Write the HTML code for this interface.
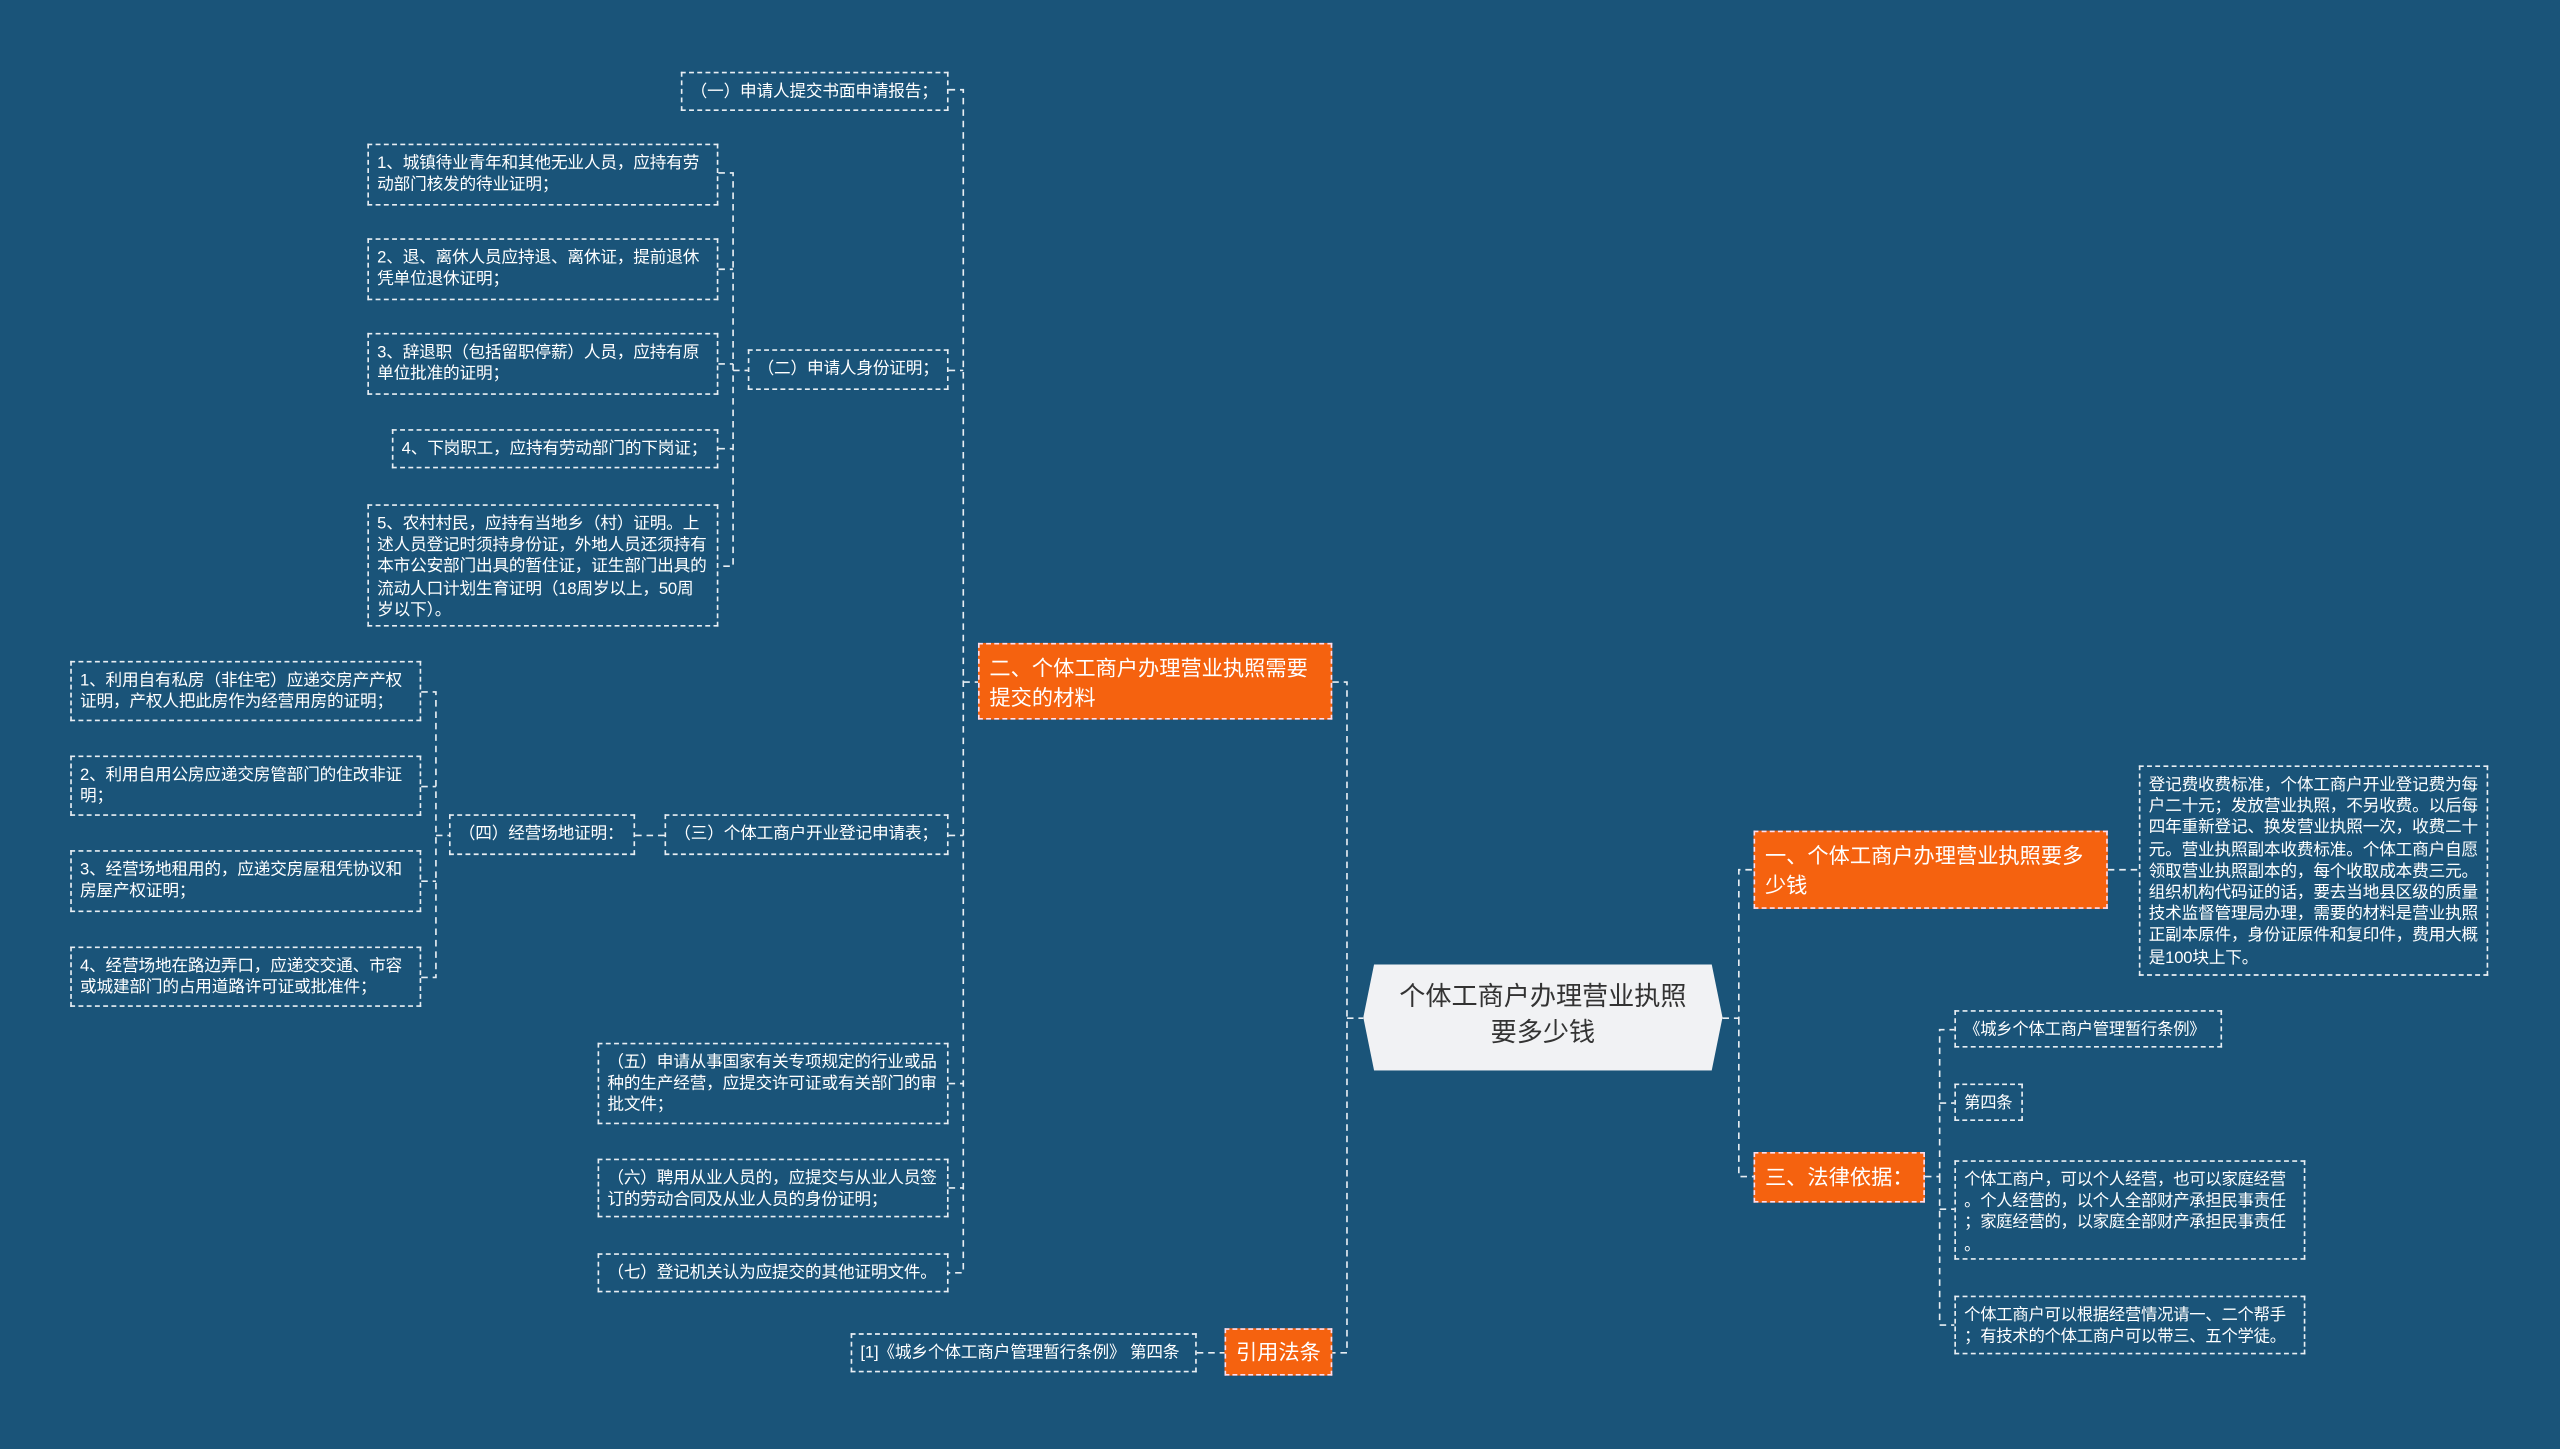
<!DOCTYPE html>
<html><head><meta charset="utf-8"><style>
html,body{margin:0;padding:0;background:#1a5479;}
#w{position:relative;width:1568px;height:888px;transform:scale(1.6327,1.6318);transform-origin:0 0;overflow:hidden;background:#1a5479;font-family:"Liberation Sans","Noto Sans CJK SC",sans-serif;}
.b{position:absolute;box-sizing:border-box;border:1px dashed #e8eef3;color:#fff;font-size:10.2px;line-height:13.2px;padding:5px 5px 4px 5px;letter-spacing:-0.1px;}
.n{white-space:nowrap;font-size:10px;letter-spacing:-0.15px;}
.o{position:absolute;box-sizing:border-box;background:#f5620f;border:1px dashed #fde;color:#fff;font-size:13px;line-height:18px;padding:6px 6px;}
svg{position:absolute;left:0;top:0}
.c{position:absolute;left:835px;top:591px;width:220px;height:65px;background:#f1f2f4;clip-path:polygon(3% 0,97% 0,100% 50%,97% 100%,3% 100%,0 50%);color:#333;font-size:16px;line-height:22px;text-align:center;padding-top:10px;box-sizing:border-box;}
</style></head><body><div id="w">
<svg width="1568" height="888"><g stroke="#e8eef3" stroke-width="1" stroke-dasharray="4,3" fill="none">
<path d="M581 55H590V780H581M590 418H599M581 227H590M581 512H590M581 664H590M581 728H590"/>
<path d="M440 106H449V347H440M440 165H449M440 223H449M440 275H449M449 227H458"/>
<path d="M258 424H267V599H258M258 482H267M258 540H267M267 512H275M389 512H407"/>
<path d="M816 418H825V829H816M825 624H835M733 829H750"/>
<path d="M1055 624H1065V533H1074M1065 624V721H1074M1291 533H1310"/>
<path d="M1179 721H1188V631H1197M1188 676H1197M1188 721V812H1197M1188 741H1197"/>
</g></svg>
<div class="b" style="left:417px;top:44px;width:164px;height:24px;">（一）申请人提交书面申请报告；</div>
<div class="b" style="left:225px;top:88px;width:215px;height:38px;">1、城镇待业青年和其他无业人员，应持有劳动部门核发的待业证明；</div>
<div class="b" style="left:225px;top:146px;width:215px;height:38px;">2、退、离休人员应持退、离休证，提前退休凭单位退休证明；</div>
<div class="b" style="left:225px;top:204px;width:215px;height:38px;">3、辞退职（包括留职停薪）人员，应持有原单位批准的证明；</div>
<div class="b" style="left:240px;top:263px;width:200px;height:24px;">4、下岗职工，应持有劳动部门的下岗证；</div>
<div class="b" style="left:225px;top:309px;width:215px;height:75px;">5、农村村民，应持有当地乡（村）证明。上述人员登记时须持身份证，外地人员还须持有本市公安部门出具的暂住证，证生部门出具的流动人口计划生育证明（18周岁以上，50周岁以下）。</div>
<div class="b" style="left:458px;top:214px;width:123px;height:25px;">（二）申请人身份证明；</div>
<div class="o" style="left:599px;top:394px;width:217px;height:47px;">二、个体工商户办理营业执照需要提交的材料</div>
<div class="b" style="left:43px;top:405px;width:215px;height:37px;">1、利用自有私房（非住宅）应递交房产产权证明，产权人把此房作为经营用房的证明；</div>
<div class="b" style="left:43px;top:463px;width:215px;height:37px;">2、利用自用公房应递交房管部门的住改非证明；</div>
<div class="b" style="left:43px;top:521px;width:215px;height:38px;">3、经营场地租用的，应递交房屋租凭协议和房屋产权证明；</div>
<div class="b" style="left:43px;top:580px;width:215px;height:37px;">4、经营场地在路边弄口，应递交交通、市容或城建部门的占用道路许可证或批准件；</div>
<div class="b" style="left:275px;top:499px;width:114px;height:25px;">（四）经营场地证明：</div>
<div class="b" style="left:407px;top:499px;width:174px;height:25px;">（三）个体工商户开业登记申请表；</div>
<div class="b" style="left:366px;top:639px;width:215px;height:50px;">（五）申请从事国家有关专项规定的行业或品种的生产经营，应提交许可证或有关部门的审批文件；</div>
<div class="b" style="left:366px;top:710px;width:215px;height:36px;">（六）聘用从业人员的，应提交与从业人员签订的劳动合同及从业人员的身份证明；</div>
<div class="b" style="left:366px;top:768px;width:215px;height:24px;">（七）登记机关认为应提交的其他证明文件。</div>
<div class="o" style="left:750px;top:814px;width:66px;height:29px;padding:5px 6px;">引用法条</div>
<div class="b" style="left:521px;top:817px;width:212px;height:24px;">[1]《城乡个体工商户管理暂行条例》 第四条</div>
<div class="c">个体工商户办理营业执照<br>要多少钱</div>
<div class="o" style="left:1074px;top:509px;width:217px;height:48px;">一、个体工商户办理营业执照要多少钱</div>
<div class="b" style="left:1310px;top:469px;width:214px;height:129px;">登记费收费标准，个体工商户开业登记费为每户二十元；发放营业执照，不另收费。以后每四年重新登记、换发营业执照一次，收费二十元。营业执照副本收费标准。个体工商户自愿领取营业执照副本的，每个收取成本费三元。组织机构代码证的话，要去当地县区级的质量技术监督管理局办理，需要的材料是营业执照正副本原件，身份证原件和复印件，费用大概是100块上下。</div>
<div class="o" style="left:1074px;top:706px;width:105px;height:31px;">三、法律依据：</div>
<div class="b n" style="left:1197px;top:619px;width:164px;height:23px;">《城乡个体工商户管理暂行条例》</div>
<div class="b n" style="left:1197px;top:664px;width:42px;height:23px;">第四条</div>
<div class="b n" style="left:1197px;top:711px;width:215px;height:61px;">个体工商户，可以个人经营，也可以家庭经营<br>。个人经营的，以个人全部财产承担民事责任<br>；家庭经营的，以家庭全部财产承担民事责任<br>。</div>
<div class="b n" style="left:1197px;top:794px;width:215px;height:36px;">个体工商户可以根据经营情况请一、二个帮手<br>；有技术的个体工商户可以带三、五个学徒。</div>
</div></body></html>
